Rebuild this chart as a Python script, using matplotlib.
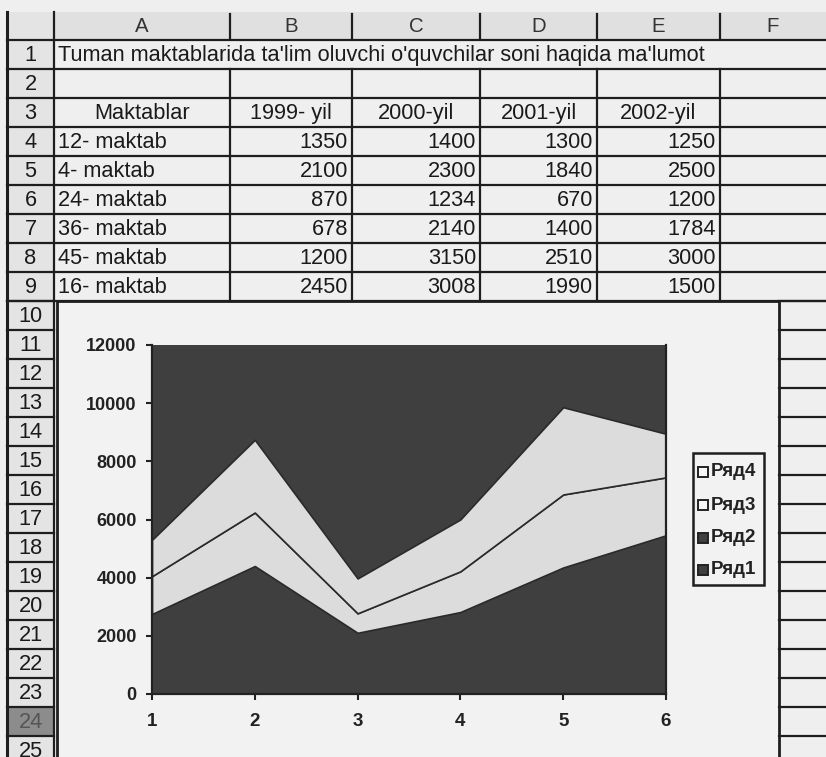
import matplotlib
matplotlib.use("Agg")
import matplotlib.pyplot as plt
from matplotlib.patches import Rectangle
import numpy as np

# ---------------- data ----------------
title = "Tuman maktablarida ta'lim oluvchi o'quvchilar soni haqida ma'lumot"
col_letters = ["A", "B", "C", "D", "E", "F"]
header_first = "Maktablar"
years = ["1999- yil", "2000-yil", "2001-yil", "2002-yil"]
schools = ["12- maktab", "4- maktab", "24- maktab", "36- maktab", "45- maktab", "16- maktab"]
y1999 = [1350, 2100, 870, 678, 1200, 2450]
y2000 = [1400, 2300, 1234, 2140, 3150, 3008]
y2001 = [1300, 1840, 670, 1400, 2510, 1990]
y2002 = [1250, 2500, 1200, 1784, 3000, 1500]
series_names = ["Ряд1", "Ряд2", "Ряд3", "Ряд4"]
x_points = [1, 2, 3, 4, 5, 6]
y_ticks = [0, 2000, 4000, 6000, 8000, 10000, 12000]

# ---------------- style ----------------
W, H = 826, 757
BG = "#efefef"
DARK = "#3f3f3f"
LIGHT = "#dcdcdc"
LINE = "#1e1e1e"
TXT = "#1a1a1a"
FONT = "Liberation Sans"
FS = 15.7

fig = plt.figure(figsize=(W / 100, H / 100), dpi=100, facecolor=BG)
bg = fig.add_axes([0, 0, 1, 1])
bg.set_xlim(0, W)
bg.set_ylim(H, 0)
bg.axis("off")

col_x = [7, 54, 230, 352, 480, 597, 720, 900]
HDR_TOP, HDR_BOT, ROW_H = 12, 40, 29


def row_top(k):
    return HDR_BOT + (k - 1) * ROW_H


lw = 1.6
# header row background
bg.add_patch(Rectangle((col_x[1], HDR_TOP), W - col_x[1], HDR_BOT - HDR_TOP,
                       facecolor="#e0e0e0", edgecolor="none", zorder=0))
bg.add_patch(Rectangle((col_x[0], HDR_TOP), col_x[1] - col_x[0], H - HDR_TOP,
                       facecolor="#e4e4e4", edgecolor="none", zorder=0))
# selected row 24
bg.add_patch(Rectangle((col_x[0], row_top(24)), col_x[1] - col_x[0], ROW_H,
                       facecolor="#8c8c8c", edgecolor="none", zorder=0))

# left border / row number column border
bg.plot([col_x[0], col_x[0]], [HDR_TOP, H], color=LINE, lw=2.2)
bg.plot([col_x[1], col_x[1]], [HDR_TOP, H], color=LINE, lw=lw)
# header separators
for xv in col_x[2:7]:
    bg.plot([xv, xv], [HDR_TOP + 2, HDR_BOT - 2], color=LINE, lw=lw)
# horizontal lines rows 1..9
for k in range(1, 11):
    yv = row_top(k)
    bg.plot([col_x[0], W], [yv, yv], color=LINE, lw=lw)
# vertical lines rows 2..9
for xv in col_x[2:7]:
    bg.plot([xv, xv], [row_top(2), row_top(10)], color=LINE, lw=lw)
# row number boxes and column F beside the chart
for k in range(10, 27):
    yv = row_top(k)
    bg.plot([col_x[0], col_x[1]], [yv, yv], color=LINE, lw=lw)
    bg.plot([779, W], [yv, yv], color=LINE, lw=lw)

# header letters
for i, letter in enumerate(col_letters):
    cx = (col_x[i + 1] + col_x[i + 2]) / 2 if i < 5 else 773
    bg.text(cx, (HDR_TOP + HDR_BOT) / 2 + 1, letter, ha="center", va="center",
            fontsize=FS - 1, family=FONT, color="#333333")
# row numbers
for k in range(1, 26):
    bg.text((col_x[0] + col_x[1]) / 2, row_top(k) + ROW_H / 2 + 1, str(k),
            ha="center", va="center", fontsize=FS, family=FONT,
            color="#555555" if k == 24 else TXT)

# cell text
bg.text(58, row_top(1) + ROW_H / 2 + 1, title, ha="left", va="center",
        fontsize=FS, family=FONT, color=TXT)
bg.text((col_x[1] + col_x[2]) / 2, row_top(3) + ROW_H / 2 + 1, header_first,
        ha="center", va="center", fontsize=FS, family=FONT, color=TXT)
for j, yr in enumerate(years):
    bg.text((col_x[j + 2] + col_x[j + 3]) / 2, row_top(3) + ROW_H / 2 + 1, yr,
            ha="center", va="center", fontsize=FS, family=FONT, color=TXT)
cols = [y1999, y2000, y2001, y2002]
for i, s in enumerate(schools):
    yc = row_top(4 + i) + ROW_H / 2 + 1
    bg.text(58, yc, s, ha="left", va="center", fontsize=FS, family=FONT, color=TXT)
    for j, col in enumerate(cols):
        bg.text(col_x[j + 3] - 4, yc, str(col[i]), ha="right", va="center",
                fontsize=FS, family=FONT, color=TXT)

# chart object
bg.add_patch(Rectangle((57, 301), 779 - 57, H - 301 + 20, facecolor="#f2f2f2",
                       edgecolor=LINE, lw=2.0, zorder=1))

# ---------------- plot area ----------------
pl, pr, pt, pb = 152, 666, 345, 694
ax = fig.add_axes([pl / W, (H - pb) / H, (pr - pl) / W, (pb - pt) / H])
ax.set_facecolor(DARK)
polys = ax.stackplot(x_points, y1999, y2000, y2001, y2002,
                     colors=[DARK, DARK, LIGHT, LIGHT], linewidth=1.2)
edge_cols = [DARK, DARK, "#2a2a2a", "#2a2a2a"]
for p, ec in zip(polys, edge_cols):
    p.set_edgecolor(ec)
ax.set_xlim(1, 6)
ax.set_ylim(0, 12000)
ax.set_xticks(x_points)
ax.set_yticks(y_ticks)
ax.set_xticklabels([str(v) for v in x_points], fontsize=13.5, fontweight="bold",
                   family=FONT, color="#222222")
ax.set_yticklabels([str(v) for v in y_ticks], fontsize=13, fontweight="bold",
                   family=FONT, color="#222222")
ax.tick_params(axis="x", direction="out", length=4, width=1.5, pad=10, color="#222222")
ax.tick_params(axis="y", direction="out", length=4, width=1.5, pad=7, color="#222222")
for side in ["left", "bottom", "right"]:
    ax.spines[side].set_color("#222222")
    ax.spines[side].set_linewidth(1.6)
ax.spines["top"].set_visible(False)

# ---------------- legend ----------------
bg.add_patch(Rectangle((693, 453), 764 - 693, 585 - 453, facecolor="#f2f2f2",
                       edgecolor=LINE, lw=1.8, zorder=3))
leg_colors = {"Ряд4": "#f6f6f6", "Ряд3": "#f6f6f6", "Ряд2": DARK, "Ряд1": DARK}
leg_y = [472, 505, 538, 570]
for name, yv in zip(series_names[::-1], leg_y):
    bg.add_patch(Rectangle((698, yv - 5), 10, 10, facecolor=leg_colors[name],
                           edgecolor="#222222", lw=1.4, zorder=4))
    bg.text(711, yv, name, ha="left", va="center", fontsize=13.5, fontweight="bold",
            family=FONT, color="#222222", zorder=5)

fig.savefig("out.png", dpi=100, facecolor=BG)
